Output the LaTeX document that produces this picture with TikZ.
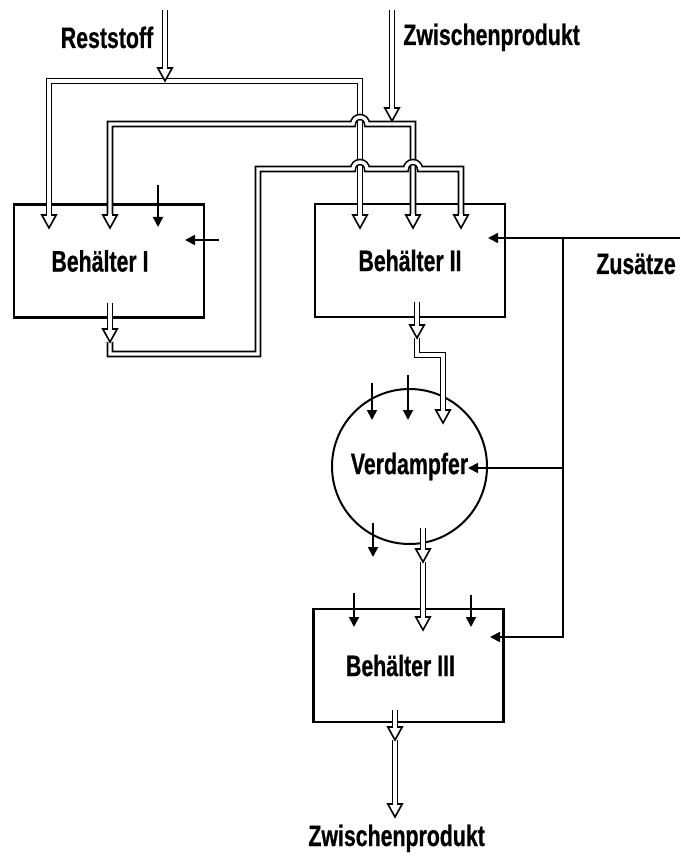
\documentclass[tikz,border=0pt]{standalone}
\usepackage{fontspec}
\newfontfamily\labfont{Liberation Sans}[FakeStretch=0.72, FakeBold=0.6]
\usetikzlibrary{arrows.meta}

\tikzset{
    spitze/.pic={
        \draw[fill=white, line width=0.8pt, line join=miter] (0,0) -- (-3.6pt,6.5pt) -- (3.6pt,6.5pt) -- cycle;
        \fill[white] (-0.85pt,5.9pt) rectangle (0.85pt,7.1pt);
    }
}

\begin{document}
\begin{tikzpicture}[
    x=0.5pt, y=-0.5pt,
    lab/.style={font=\labfont\bfseries\fontsize{14.8}{16}\selectfont, inner sep=0pt},
    tank/.style={draw, line width=1.1pt, minimum width=95pt, minimum height=56.5pt, lab},
    pipe/.style={double, double distance=1.7pt, line width=0.8pt},
    flow/.style={pipe, shorten >=6.5pt},
    flows/.style={pipe, shorten >=6.5pt, shorten <=6.5pt},
    feed/.style={line width=0.9pt, -{Triangle[length=5pt, width=5pt]}}
]
\useasboundingbox (0,0) rectangle (680,860);

% Behaelter und Verdampfer
\node[tank] (b1) at (109,261) {\raisebox{-2pt}{Behälter I}\hspace*{9pt}};
\node[tank] (b2) at (410,260.5) {\raisebox{-2pt}{Behälter II}};
\node[tank] (b3) at (408.5,665.5) {\raisebox{-2pt}{Behälter III}\hspace*{8pt}};
\node[draw, circle, line width=1pt, minimum size=77.5pt, lab] (vd) at (409.5,466.5) {\raisebox{-4pt}{Verdampfer}};

% Beschriftungen
\node[lab, anchor=base] (rst) at (107,48) {Reststoff};
\node[lab, anchor=base west] (zwo) at (403,45) {Zwischenprodukt};
\node[lab, anchor=base west] (zus) at (596,274) {Zusätze};
\node[lab, anchor=base west] (zwu) at (308,846) {Zwischenprodukt};

% Anschlusspunkte
\coordinate (rin) at (165,10);
\coordinate (rj) at (165,81);
\coordinate (zin) at (392,10);
\coordinate (zj) at (392,121);
\coordinate (b1a) at (49,228);
\coordinate (b1b) at (110,228);
\coordinate (b1out) at (110,303);
\coordinate (b1o) at (110,342);
\coordinate (b2a) at (360,228);
\coordinate (b2b) at (413,228);
\coordinate (b2c) at (461,228);
\coordinate (b2out) at (417,302);
\coordinate (b2o) at (417,338);
\coordinate (vin) at (443,423);
\coordinate (vout) at (423,528);
\coordinate (vo) at (423,562);
\coordinate (b3in) at (423,630);
\coordinate (b3out) at (395,710);
\coordinate (b3o) at (395,740);
\coordinate (pout) at (395,817);

% Rohrleitungen
\draw[flows] (b1a) |- (rj) -| (b2a);
\draw[flows] (b1b) |- (353,124) arc[start angle=180, end angle=0, radius=3.5pt] -| (b2b);
\draw[flow] (b1o) |- (258,354) |- (353,169) arc[start angle=180, end angle=0, radius=3.5pt]
    -- (406,169) arc[start angle=180, end angle=0, radius=3.5pt] -| (b2c);
\draw[flow] (b2o) -- (417,355) -| (vin);
\draw[flow] (vo) -- (b3in);
\draw[flow] (b3o) -- (pout);
\draw[flow] (rin) -- (rj);
\draw[flow] (zin) -- (zj);
\draw[flow] (b1out) -- (b1o);
\draw[flow] (b2out) -- (b2o);
\draw[flow] (vout) -- (vo);
\draw[flow] (b3out) -- (b3o);
\foreach \p in {rj,zj,b1a,b1b,b1o,b2a,b2b,b2c,b2o,vin,vo,b3in,b3o,pout}
    \pic at (\p) {spitze};

% Zusaetze
\coordinate (zr) at (680,238);
\coordinate (zt) at (563,238);
\coordinate (zm) at (563,468);
\draw[feed] (zr) -- (488,238);
\draw[feed] (zt) |- (490,637);
\draw[feed] (zm) -- (468,468);

% einzelne Zulaeufe
\draw[feed] (158,185) -- (158,227);
\draw[feed] (219,240) -- (185,240);
\draw[feed] (372,383) -- (372,420);
\draw[feed] (408,375) -- (408,420);
\draw[feed] (373,523) -- (373,557);
\draw[feed] (354,593) -- (354,627);
\draw[feed] (471,595) -- (471,627);
\end{tikzpicture}
\end{document}
